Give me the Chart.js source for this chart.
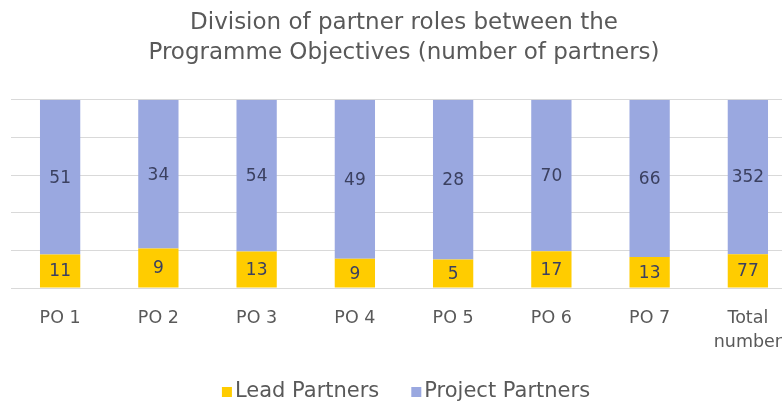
<!DOCTYPE html>
<html>
<head>
<meta charset="utf-8">
<script src="https://cdn.jsdelivr.net/npm/chart.js@4"></script>
<style>
  html, body { margin: 0; padding: 0; background: #fff; overflow: hidden; }
  #wrap { width: 782px; height: 403px; overflow: hidden; }
</style>
</head>
<body>
<div id="wrap"><canvas id="chart" width="800" height="403"></canvas></div>
<script>
const categories = ['PO 1', 'PO 2', 'PO 3', 'PO 4', 'PO 5', 'PO 6', 'PO 7', ['Total', 'number']];
const leadPartners = [11, 9, 13, 9, 5, 17, 13, 77];
const projectPartners = [51, 34, 54, 49, 28, 70, 66, 352];
const seriesNames = ['Lead Partners', 'Project Partners'];
const seriesColors = ['#ffcc00', '#9aa8e0'];

const FONT = "'DejaVu Sans', sans-serif";

// 100% stacked: each bar shows share of the category total
const totals = leadPartners.map((v, i) => v + projectPartners[i]);
const leadPct = leadPartners.map((v, i) => v / totals[i] * 100);
const projectPct = projectPartners.map((v, i) => v / totals[i] * 100);

const valueLabels = {
  id: 'valueLabels',
  afterDatasetsDraw(chart) {
    const ctx = chart.ctx;
    const raw = [leadPartners, projectPartners];
    ctx.save();
    ctx.font = '17px ' + FONT;
    ctx.fillStyle = '#3b4060';
    ctx.textAlign = 'center';
    ctx.textBaseline = 'middle';
    chart.data.datasets.forEach((ds, di) => {
      chart.getDatasetMeta(di).data.forEach((bar, i) => {
        const mid = (bar.y + bar.base) / 2;
        ctx.fillText(raw[di][i], bar.x, mid + 1);
      });
    });
    ctx.restore();
  }
};

// legend drawn by hand so the item gap and position match
const bottomLegend = {
  id: 'bottomLegend',
  afterDraw(chart) {
    const ctx = chart.ctx;
    const box = 10, textGap = 3, itemGap = 32;
    const y = chart.height - 11;
    ctx.save();
    ctx.font = '21px ' + FONT;
    ctx.textBaseline = 'middle';
    const widths = seriesNames.map(n => box + textGap + ctx.measureText(n).width);
    const total = widths.reduce((a, b) => a + b, 0) + itemGap * (widths.length - 1);
    let x = 406 - total / 2;
    seriesNames.forEach((name, i) => {
      ctx.fillStyle = seriesColors[i];
      ctx.fillRect(x, y - box / 2, box, box);
      ctx.fillStyle = '#595959';
      ctx.fillText(name, x + box + textGap, y);
      x += widths[i] + itemGap;
    });
    ctx.restore();
  }
};

new Chart(document.getElementById('chart'), {
  type: 'bar',
  data: {
    labels: categories,
    datasets: [
      {
        label: seriesNames[0],
        data: leadPct,
        backgroundColor: seriesColors[0],
        barPercentage: 0.41,
        categoryPercentage: 1,
      },
      {
        label: seriesNames[1],
        data: projectPct,
        backgroundColor: seriesColors[1],
        barPercentage: 0.41,
        categoryPercentage: 1,
      },
    ],
  },
  options: {
    responsive: false,
    animation: false,
    layout: { padding: { left: 11, right: 3, top: 0, bottom: 32 } },
    scales: {
      x: {
        stacked: true,
        grid: { display: false },
        border: { display: false },
        ticks: {
          color: '#595959',
          font: { size: 17.5, family: FONT, lineHeight: 1.4 },
          padding: 10,
          maxRotation: 0,
        },
        afterFit(scale) { scale.height = 83; },
      },
      y: {
        stacked: true,
        min: 0,
        max: 100,
        ticks: { display: false, stepSize: 20 },
        grid: { color: '#d9d9d9', drawTicks: false },
        border: { display: false },
        afterFit(scale) { scale.width = 0; },
      },
    },
    plugins: {
      title: {
        display: true,
        text: ['Division of partner roles between the', 'Programme Objectives (number of partners)'],
        color: '#595959',
        font: { size: 23, weight: 'normal', family: FONT, lineHeight: 1.3 },
        padding: { top: 8, bottom: 32 },
      },
      legend: { display: false },
      tooltip: { enabled: false },
    },
  },
  plugins: [valueLabels, bottomLegend],
});
</script>
</body>
</html>
